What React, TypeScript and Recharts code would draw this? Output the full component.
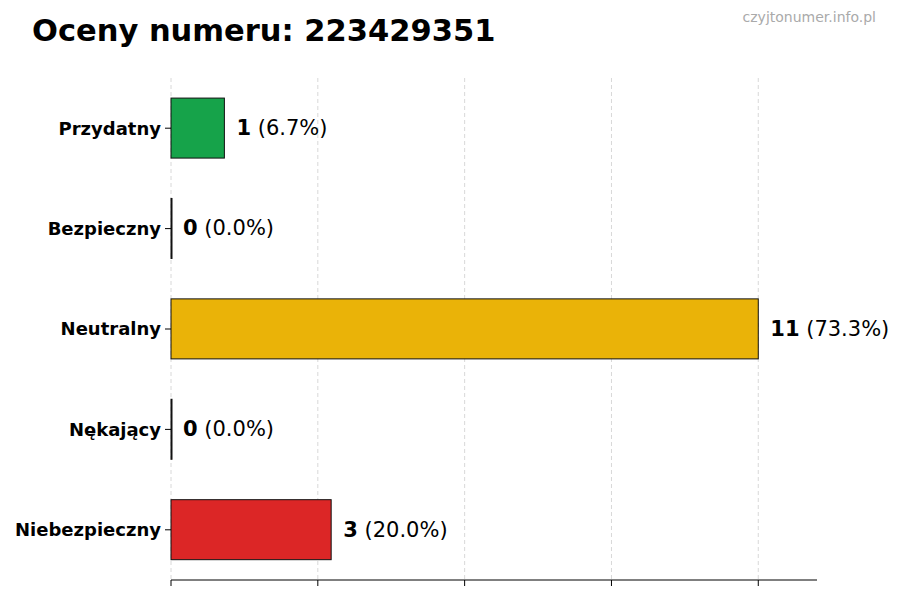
import React from 'react';
import { BarChart, Bar, XAxis, YAxis, CartesianGrid } from 'recharts';

const categories = ['Przydatny', 'Bezpieczny', 'Neutralny', 'Nękający', 'Niebezpieczny'];
const counts = [1, 0, 11, 0, 3];
const colors = ['#16a34a', '#22c55e', '#eab308', '#f97316', '#dc2626'];
const xTicks = [0, 2.75, 5.5, 8.25, 11];

const total = counts.reduce((a, b) => a + b, 0);
const data = categories.map((name, i) => ({
  name,
  value: counts[i],
  pct: total ? (counts[i] / total) * 100 : 0,
  color: colors[i],
}));
const maxVal = Math.max(...counts);
const xMax = maxVal * 1.1;

const FONT = '"DejaVu Sans", sans-serif';

const BarShape = (props: any) => {
  const { x, y, width, height, payload } = props;
  return (
    <rect
      x={x}
      y={y}
      width={Math.max(width || 0, 0)}
      height={height}
      fill={payload.color}
      stroke="#111"
      strokeWidth={1}
    />
  );
};

const ValueLabel = (props: any) => {
  const { x, y, width, height, index } = props;
  const d = data[index];
  const w = d.value === 0 ? 0 : width;
  return (
    <text
      x={x + w + 12}
      y={y + height / 2}
      dominantBaseline="central"
      fontFamily={FONT}
      fontSize={21}
      fill="#000"
    >
      <tspan fontWeight="bold">{d.value}</tspan>
      <tspan> ({d.pct.toFixed(1)}%)</tspan>
    </text>
  );
};

// grid lines only at the tick values, not at the right edge
const gridX = (p: any) => {
  const left = p?.offset?.left ?? 171;
  const w = p?.offset?.width ?? 646;
  return xTicks.map((t) => left + (t / xMax) * w);
};

export default function App() {
  return (
    <div style={{ position: 'absolute', left: 0, top: 0, width: 900, height: 600, background: '#fff' }}>
      <div
        style={{
          position: 'absolute',
          left: 32,
          top: 13,
          fontFamily: FONT,
          fontWeight: 'bold',
          fontSize: 30.5,
          lineHeight: '36px',
          color: '#000',
          whiteSpace: 'nowrap',
        }}
      >
        Oceny numeru: 223429351
      </div>
      <div
        style={{
          position: 'absolute',
          right: 24,
          top: 9,
          fontFamily: FONT,
          fontSize: 14,
          color: '#aaa',
        }}
      >
        czyjtonumer.info.pl
      </div>
      <BarChart
        width={900}
        height={600}
        data={data}
        layout="vertical"
        margin={{ top: 78, right: 83, bottom: 0, left: 0 }}
        barCategoryGap="20%"
      >
        <CartesianGrid
          horizontal={false}
          strokeDasharray="4 3"
          stroke="#d8d8d8"
          verticalCoordinatesGenerator={gridX}
        />
        <XAxis
          type="number"
          domain={[0, xMax]}
          ticks={xTicks}
          tickFormatter={() => ''}
          stroke="#000"
          tickSize={6}
          height={20}
        />
        <YAxis
          type="category"
          dataKey="name"
          width={171}
          axisLine={false}
          tickSize={6}
          tickLine={{ stroke: '#000' }}
          tick={{ fontFamily: FONT, fontSize: 18, fontWeight: 'bold', fill: '#000', dx: -2 }}
        />
        <Bar
          dataKey="value"
          shape={<BarShape />}
          minPointSize={1}
          isAnimationActive={false}
          label={<ValueLabel />}
        />
      </BarChart>
    </div>
  );
}
